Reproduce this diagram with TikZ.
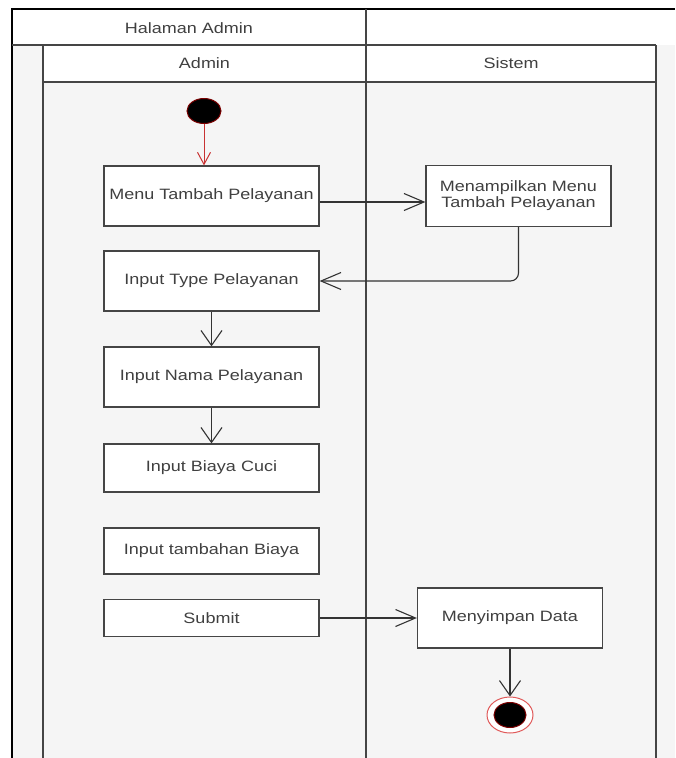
\documentclass[tikz,border=0pt]{standalone}
\usepackage{fontspec}
\setmainfont{Liberation Sans}
\usetikzlibrary{arrows.meta,shapes.geometric}
\definecolor{lanebg}{HTML}{F5F5F5}
\definecolor{edge}{HTML}{454545}
\definecolor{txt}{HTML}{404040}
\definecolor{darkred}{HTML}{7A0000}
\definecolor{flowred}{HTML}{C83232}
\definecolor{ringred}{HTML}{E05A5A}
% slightly widened text, as set by the drawing tool
\newcommand{\wide}[1]{\scalebox{1.2}[1]{#1}}

\begin{document}
\begin{tikzpicture}[x=1pt,y=-1pt,
  lbl/.style={font=\fontsize{15}{17}\selectfont, text=txt, inner sep=0pt},
  action/.style={draw=edge, fill=white, line width=1.2pt, inner sep=0pt,
    font=\fontsize{15}{17}\selectfont, text=txt, align=center},
  frame/.style={draw=edge, line width=1.2pt},
  flow/.style={draw=black!80, line width=1.1pt,
    -{Straight Barb[length=20pt,width=17pt,line width=1.1pt]}},
  vflow/.style={draw=black!80, line width=1.1pt,
    -{Straight Barb[length=15pt,width=21pt,line width=1.1pt]}},
  redflow/.style={draw=flowred, line width=1pt,
    -{Straight Barb[length=12pt,width=13pt,line width=1pt]}},
]
\useasboundingbox (0,0) rectangle (675,758);

% pool and lanes
\fill[white] (0,0) rectangle (675,758);
\fill[lanebg] (12,45) rectangle (675,758);
\fill[white] (12,9) rectangle (675,45);
\fill[white] (43,45) rectangle (656,82);

\draw[black, line width=1.4pt] (12,758) -- (12,9) -- (675,9);
\draw[frame] (12,45) -- (656,45);
\draw[frame] (366,9) -- (366,45);
\draw[frame] (43,45) -- (43,758);
\draw[frame] (366,45) -- (366,758);
\draw[frame] (656,45) -- (656,758);
\draw[frame] (43,82) -- (656,82);

\node[lbl] (pool) at (189,28) {\wide{Halaman Admin}};
\node[lbl] (adminhd) at (204.5,63.5) {\wide{Admin}};
\node[lbl] (sistemhd) at (511,63.5) {\wide{Sistem}};

% start and end
\node[ellipse, minimum width=34pt, minimum height=25pt, inner sep=0pt,
  fill=black, draw=darkred, line width=1pt] (start) at (204,111) {};

\node[ellipse, minimum width=46pt, minimum height=36pt, inner sep=0pt,
  fill=white, draw=ringred, line width=1pt] (end) at (510,715) {};
\node[ellipse, minimum width=32pt, minimum height=25pt, inner sep=0pt,
  fill=black, draw=darkred, line width=1pt] (endcore) at (510,715) {};

% actions
\node[action, minimum width=215pt, minimum height=60pt] (menu) at (211.5,196)
  {\wide{Menu Tambah Pelayanan}};
\node[action, minimum width=185pt, minimum height=61pt] (tampil) at (518.5,196)
  {\wide{\begin{tabular}{@{}c@{}}Menampilkan Menu\\[-1pt]Tambah Pelayanan\end{tabular}}};
\node[action, minimum width=215pt, minimum height=60pt] (type) at (211.5,281)
  {\wide{Input Type Pelayanan}};
\node[action, minimum width=215pt, minimum height=60pt] (nama) at (211.5,377)
  {\wide{Input Nama Pelayanan}};
\node[action, minimum width=215pt, minimum height=48pt] (cuci) at (211.5,468)
  {\wide{Input Biaya Cuci}};
\node[action, minimum width=215pt, minimum height=46pt] (tambah) at (211.5,551)
  {\wide{Input tambahan Biaya}};
\node[action, minimum width=215pt, minimum height=37pt] (submit) at (211.5,618)
  {\wide{Submit}};
\node[action, minimum width=185pt, minimum height=60pt] (simpan) at (510,618)
  {\wide{Menyimpan Data}};

% control flow
\draw[redflow] (start.south) -- (start.south |- menu.north);
\draw[flow] ([yshift=-6pt]menu.east) -- ([yshift=-6pt]tampil.west);
\draw[flow, rounded corners=8pt] (tampil.south) |- (type.east);
\draw[vflow] (type.south) -- (nama.north);
\draw[vflow] (nama.south) -- (cuci.north);
\draw[flow] (submit.east) -- (simpan.west);
\draw[vflow] (simpan.south) -- (end.north);
\end{tikzpicture}
\end{document}
